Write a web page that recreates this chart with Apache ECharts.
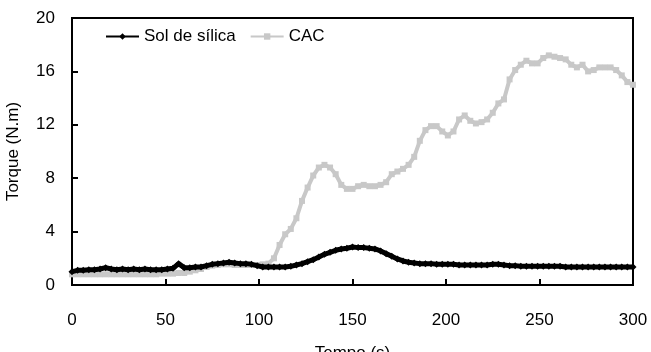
<!DOCTYPE html>
<html>
<head>
<meta charset="utf-8">
<script src="https://cdn.jsdelivr.net/npm/echarts@6/dist/echarts.min.js"></script>
<style>
  html, body { margin: 0; padding: 0; background: #fff; }
  #chart { width: 651px; height: 352px; }
</style>
</head>
<body>
<div id="chart"></div>
<script>
var chart = echarts.init(document.getElementById('chart'));

// tempo (s)
var tempo = [0, 3, 6, 9, 12, 15, 18, 21, 24, 27, 30, 33, 36, 39, 42, 45, 48, 51, 54, 57,
    60, 63, 66, 69, 72, 75, 78, 81, 84, 87, 90, 93, 96, 99, 102, 105, 108, 111, 114, 117,
    120, 123, 126, 129, 132, 135, 138, 141, 144, 147, 150, 153, 156, 159, 162, 165, 168, 171, 174, 177,
    180, 183, 186, 189, 192, 195, 198, 201, 204, 207, 210, 213, 216, 219, 222, 225, 228, 231, 234, 237,
    240, 243, 246, 249, 252, 255, 258, 261, 264, 267, 270, 273, 276, 279, 282, 285, 288, 291, 294, 297, 300];

// torque (N.m) - sol de silica
var solSilica = [1.0, 1.1, 1.1, 1.15, 1.15, 1.2, 1.3, 1.2, 1.15, 1.2, 1.15, 1.2, 1.15, 1.2, 1.15, 1.15, 1.15, 1.2, 1.25, 1.6,
    1.3, 1.3, 1.35, 1.35, 1.45, 1.55, 1.6, 1.65, 1.7, 1.65, 1.6, 1.6, 1.55, 1.45, 1.35, 1.35, 1.35, 1.35, 1.35, 1.4,
    1.5, 1.6, 1.75, 1.9, 2.1, 2.3, 2.45, 2.6, 2.7, 2.75, 2.85, 2.8, 2.8, 2.75, 2.7, 2.55, 2.35, 2.15, 1.95, 1.8,
    1.7, 1.65, 1.6, 1.6, 1.6, 1.55, 1.55, 1.55, 1.55, 1.5, 1.5, 1.5, 1.5, 1.5, 1.5, 1.55, 1.55, 1.5, 1.45, 1.45,
    1.4, 1.4, 1.4, 1.4, 1.4, 1.4, 1.4, 1.4, 1.35, 1.35, 1.35, 1.35, 1.35, 1.35, 1.35, 1.35, 1.35, 1.35, 1.35, 1.35, 1.35];

// torque (N.m) - CAC
var cac = [0.8, 0.8, 0.8, 0.8, 0.8, 0.8, 0.8, 0.8, 0.8, 0.8, 0.8, 0.8, 0.8, 0.8, 0.8, 0.8, 0.85, 0.85, 0.85, 0.9,
    0.9, 1.0, 1.1, 1.2, 1.35, 1.45, 1.5, 1.55, 1.55, 1.5, 1.5, 1.5, 1.5, 1.5, 1.55, 1.6, 2.0, 3.0, 3.8, 4.2,
    5.0, 6.3, 7.3, 8.2, 8.8, 9.0, 8.8, 8.3, 7.5, 7.2, 7.2, 7.4, 7.5, 7.4, 7.4, 7.5, 7.7, 8.3, 8.5, 8.7,
    9.0, 9.6, 10.8, 11.6, 11.9, 11.9, 11.5, 11.2, 11.5, 12.4, 12.7, 12.3, 12.1, 12.2, 12.4, 12.9, 13.6, 13.9, 15.4, 16.1,
    16.5, 16.8, 16.6, 16.6, 17.0, 17.2, 17.1, 17.0, 16.9, 16.5, 16.3, 16.5, 16.0, 16.1, 16.3, 16.3, 16.3, 16.1, 15.7, 15.2, 15.0];

function pares(vals) {
    return tempo.map(function (t, i) { return [t, vals[i]]; });
}

var fonte = 'Liberation Sans, Arial, sans-serif';

var option = {
    animation: false,
    grid: {
        left: 72,
        right: 18,
        top: 18,
        bottom: 67,
        outerBoundsMode: 'none',
        show: true,
        borderColor: '#000000',
        borderWidth: 2
    },
    legend: {
        left: 100,
        top: 23,
        itemWidth: 33,
        itemHeight: 8,
        itemGap: 14,
        textStyle: { color: '#000', fontSize: 17, fontFamily: fonte },
        data: ['Sol de sílica', 'CAC']
    },
    xAxis: [{
        type: 'value',
        min: 0,
        max: 300,
        interval: 50,
        name: 'Tempo (s)',
        nameLocation: 'middle',
        nameGap: 60,
        nameTextStyle: { color: '#000', fontSize: 17, fontFamily: fonte },
        axisLine: { show: true, onZero: false, lineStyle: { color: '#000000', width: 2 } },
        axisTick: { show: true, inside: true, length: 6, lineStyle: { color: '#000000', width: 2 } },
        axisLabel: { color: '#000', fontSize: 17, fontFamily: fonte, margin: 27 },
        splitLine: { show: false }
    }, {
        // linha superior da moldura
        type: 'value',
        position: 'top',
        min: 0,
        max: 300,
        axisLine: { show: true, onZero: false, lineStyle: { color: '#000000', width: 2 } },
        axisTick: { show: false },
        axisLabel: { show: false },
        splitLine: { show: false }
    }],
    yAxis: [{
        type: 'value',
        min: 0,
        max: 20,
        interval: 4,
        name: 'Torque (N.m)',
        nameLocation: 'middle',
        nameGap: 50,
        nameTextStyle: { color: '#000', fontSize: 17, fontFamily: fonte },
        axisLine: { show: true, onZero: false, lineStyle: { color: '#000000', width: 2 } },
        axisTick: { show: true, inside: true, length: 6, lineStyle: { color: '#000000', width: 2 } },
        axisLabel: { color: '#000', fontSize: 17, fontFamily: fonte, margin: 17 },
        splitLine: { show: false }
    }, {
        // linha direita da moldura
        type: 'value',
        position: 'right',
        min: 0,
        max: 20,
        axisLine: { show: true, onZero: false, lineStyle: { color: '#000000', width: 2 } },
        axisTick: { show: false },
        axisLabel: { show: false },
        splitLine: { show: false }
    }],
    series: [
        {
            name: 'CAC',
            type: 'line',
            data: pares(cac),
            symbol: 'rect',
            symbolSize: 6,
            lineStyle: { color: '#c8c8c8', width: 4 },
            itemStyle: { color: '#c8c8c8' },
            z: 2
        },
        {
            name: 'Sol de sílica',
            type: 'line',
            data: pares(solSilica),
            symbol: 'diamond',
            symbolSize: 7,
            lineStyle: { color: '#000', width: 5 },
            itemStyle: { color: '#000' },
            z: 3
        }
    ]
};

chart.setOption(option);
window.onresize = chart.resize;
</script>
</body>
</html>
